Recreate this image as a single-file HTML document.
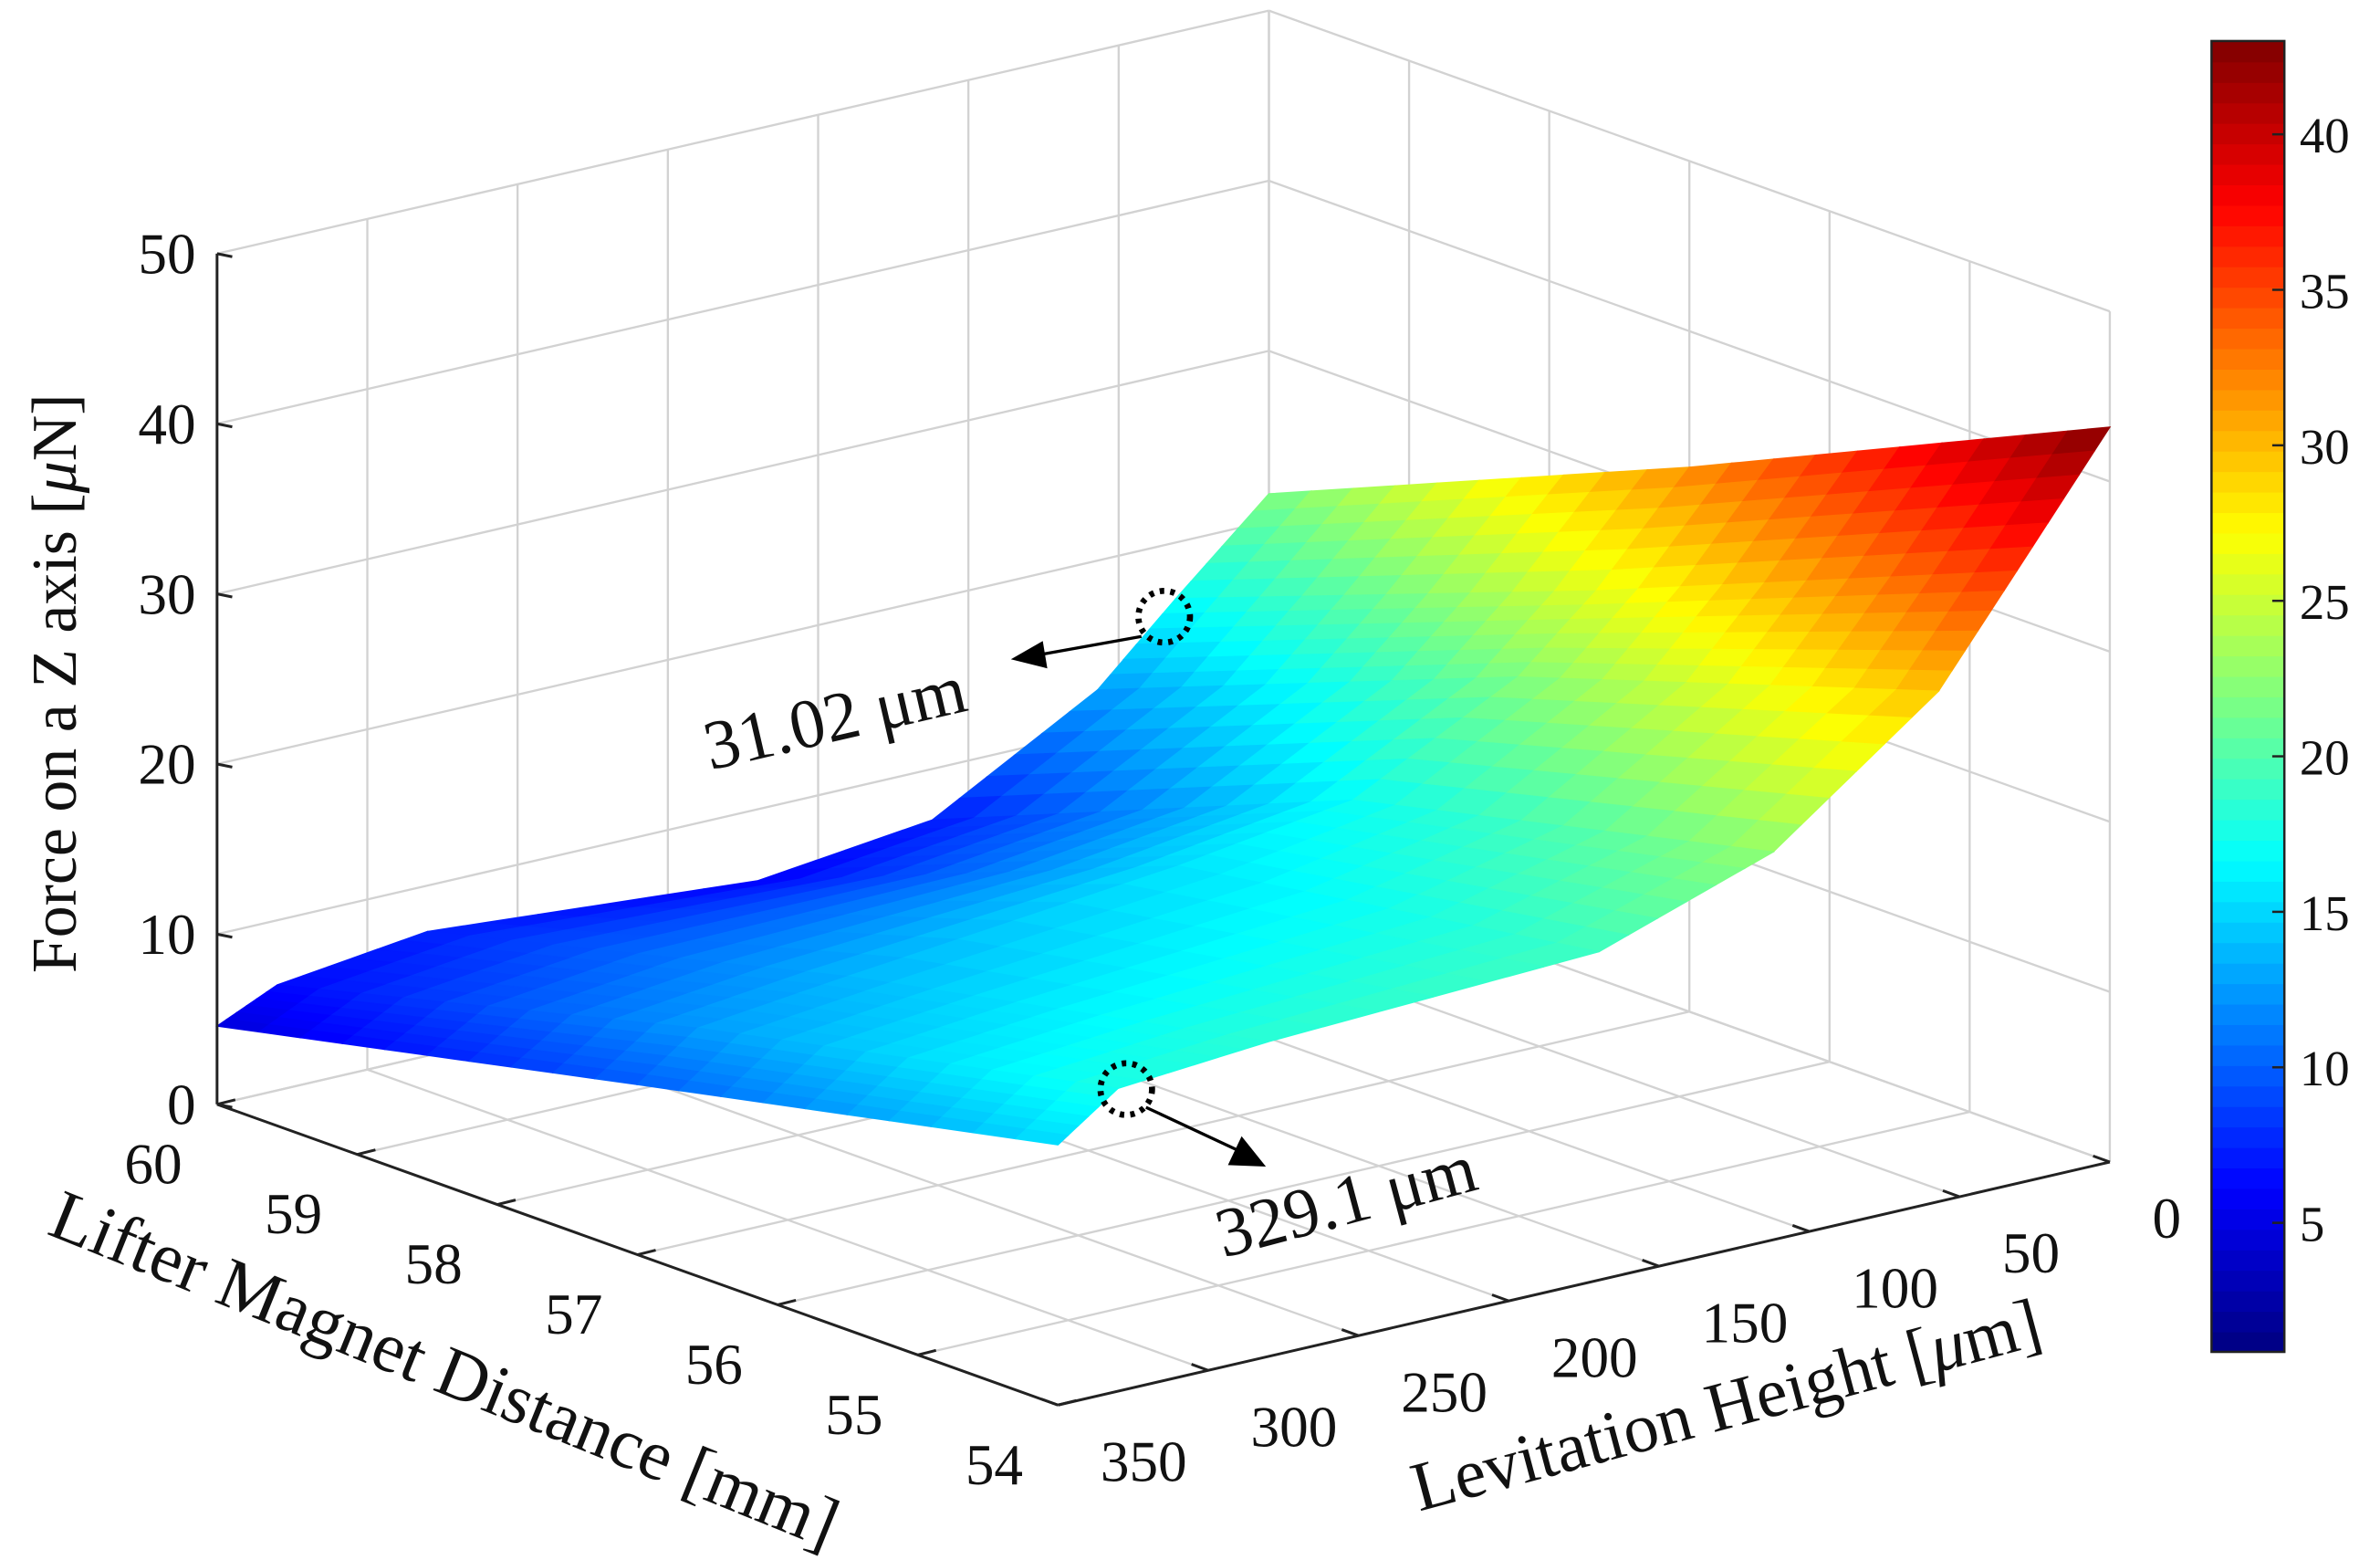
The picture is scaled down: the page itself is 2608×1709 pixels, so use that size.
<!DOCTYPE html>
<html><head><meta charset="utf-8"><style>
html,body{margin:0;padding:0;background:#fff;}
svg{display:block;}
text{font-family:"Liberation Serif",serif;fill:#111;}
</style></head><body>
<svg id="chart" width="2608" height="1709" viewBox="0 0 1568 1027" preserveAspectRatio="none" xmlns="http://www.w3.org/2000/svg">
<g id="grid"></g>
<g id="surf"></g>
<g id="axes"></g>
<g id="cbar"></g>
<text x="0" y="0" font-size="42" text-anchor="middle" transform="translate(50,450) rotate(-90)">Force on a Z axis [<tspan font-style="italic">μ</tspan>N]</text>
<text x="0" y="0" font-size="47" transform="translate(30,812) rotate(22)">Lifter  Magnet Distance [mm]</text>
<text x="0" y="0" font-size="46" transform="translate(935,995) rotate(-15)">Levitation Height [<tspan font-style="italic">μ</tspan>m]</text>
<g>
<circle cx="767" cy="406" r="17" fill="none" stroke="#000" stroke-width="4" stroke-dasharray="3,4"/>
<line x1="752" y1="419" x2="685" y2="431" stroke="#000" stroke-width="2"/>
<polygon points="666,434 687,422 690,440" fill="#000"/>
<text x="0" y="0" font-size="46" transform="translate(468,507) rotate(-13)">31.02 μm</text>
</g>
<g>
<circle cx="742" cy="717" r="17" fill="none" stroke="#000" stroke-width="4" stroke-dasharray="3,4"/>
<line x1="755" y1="729" x2="815" y2="757" stroke="#000" stroke-width="2"/>
<polygon points="834,768 809,767 818,748" fill="#000"/>
<text x="0" y="0" font-size="46" transform="translate(806,828) rotate(-15)">329.1 μm</text>
</g>
</svg>
<script>
const hVals=[0,31,57,112,170,280,330,350];
const lVals=[60,57,54];
const zL60=[21.6,16.7,12.4,7.0,5.8,7.3,6.2,4.6];
const zL57=[32,26,22,17,15.5,13.5,12.5,10];
const zL54=[43.2,36,30,22.8,19.3,18.5,17.8,15.3];
const zTicks=[0,10,20,30,40,50];
const lTicks=[54,55,56,57,58,59,60];
const hTicks=[0,50,100,150,200,250,300,350];
const cTicks=[5,10,15,20,25,30,35,40];
const cMin=0.85,cMax=43;
const NS="http://www.w3.org/2000/svg";
function P(L,h,z){
  const a=(L-54)/6,b=(350-h)/350;
  return [697-554*a+693*b, 925-198*a-160*b-11.2*z];
}
function mk(t,attrs,parent){const e=document.createElementNS(NS,t);for(const k in attrs)e.setAttribute(k,attrs[k]);parent.appendChild(e);return e;}
function jet(v){
  let t=(v-cMin)/(cMax-cMin);t=Math.max(0,Math.min(1,t));
  const r=Math.max(0,Math.min(1,1.5-Math.abs(4*t-3)));
  const g=Math.max(0,Math.min(1,1.5-Math.abs(4*t-2)));
  const b=Math.max(0,Math.min(1,1.5-Math.abs(4*t-1)));
  return `rgb(${Math.round(r*255)},${Math.round(g*255)},${Math.round(b*255)})`;
}
const grid=document.getElementById('grid'),surf=document.getElementById('surf'),axes=document.getElementById('axes'),cbar=document.getElementById('cbar');
const gs={stroke:'#d2d2d2','stroke-width':1.4};
function gl(p,q){const e=mk('line',Object.assign({x1:p[0],y1:p[1],x2:q[0],y2:q[1]},gs),grid);

}
zTicks.forEach(z=>{gl(P(60,350,z),P(60,0,z));gl(P(60,0,z),P(54,0,z));});
hTicks.forEach(h=>{gl(P(60,h,0),P(60,h,50));gl(P(60,h,0),P(54,h,0));});
lTicks.forEach(L=>{gl(P(L,0,0),P(L,0,50));gl(P(L,0,0),P(L,350,0));});
const rows=[zL60,zL57,zL54];
function zAt(li,hi){return rows[li][hi];}
const subL=10,subH=6;
for(let i=0;i<hVals.length-1;i++){
 for(let r=0;r<lVals.length-1;r++){
  for(let a=0;a<subL;a++){for(let b=0;b<subH;b++){
   const corners=[[a,b],[a+1,b],[a+1,b+1],[a,b+1]].map(([u,v])=>{
     const fu=u/subL,fv=v/subH;
     const L=lVals[r]+(lVals[r+1]-lVals[r])*fu;
     const h=hVals[i]+(hVals[i+1]-hVals[i])*fv;
     const z00=zAt(r,i),z10=zAt(r+1,i),z01=zAt(r,i+1),z11=zAt(r+1,i+1);
     const z=z00*(1-fu)*(1-fv)+z10*fu*(1-fv)+z01*(1-fu)*fv+z11*fu*fv;
     return {p:P(L,h,z),z:z};
   });
   const zm=corners.reduce((s,c)=>s+c.z,0)/4;
   const c=jet(zm);
   const e=mk('polygon',{points:corners.map(c=>c.p.join(',')).join(' '),fill:c,stroke:c,'stroke-width':0.8},surf);
   
   
  }}
 }
}
const as={stroke:'#222','stroke-width':1.8};
function al(p,q,name){const e=mk('line',Object.assign({x1:p[0],y1:p[1],x2:q[0],y2:q[1]},as),axes);

}
al(P(60,350,0),P(60,350,50),'z-axis-line');
al(P(60,350,0),P(54,350,0),'lifter-axis-line');
al(P(54,350,0),P(54,0,0),'levitation-axis-line');
zTicks.forEach(z=>{const p=P(60,350,z);al(p,[p[0]+10,p[1]+2],'z-tick');
 const t=mk('text',{x:p[0]-14,y:p[1]+13,'font-size':38,'text-anchor':'end'},axes);t.textContent=z;
 
 });
lTicks.forEach(L=>{const p=P(L,350,0);al(p,[p[0]+12,p[1]-3],'lifter-tick');
 const t=mk('text',{x:p[0]-42,y:p[1]+52,'font-size':38,'text-anchor':'middle'},axes);t.textContent=L;
 
 });
hTicks.forEach(h=>{const p=P(54,h,0);al(p,[p[0]-11,p[1]-4],'levitation-tick');
 const t=mk('text',{x:p[0]+28,y:p[1]+50,'font-size':38,'text-anchor':'start'},axes);t.textContent=h;
 
 });
const cx=1457,cw=48,cy0=27,cy1=890;
const N=64;
for(let k=0;k<N;k++){
 const v=cMin+(cMax-cMin)*(k+0.5)/N;
 const y=cy1-(k+1)*(cy1-cy0)/N;
 const e=mk('rect',{x:cx,y:y,width:cw,height:(cy1-cy0)/N+0.6,fill:jet(v)},cbar);
 
 
}
const fr=mk('rect',{x:cx,y:cy0,width:cw,height:cy1-cy0,fill:'none',stroke:'#222','stroke-width':1.5},cbar);


cTicks.forEach(v=>{const y=cy1-(v-cMin)/(cMax-cMin)*(cy1-cy0);
 const l=mk('line',{x1:cx+cw-8,y1:y,x2:cx+cw,y2:y,stroke:'#222','stroke-width':1.5},cbar);
 
 
 const t=mk('text',{x:cx+cw+10,y:y+12,'font-size':33},cbar);t.textContent=v;
 
 });
</script>
</body></html>
